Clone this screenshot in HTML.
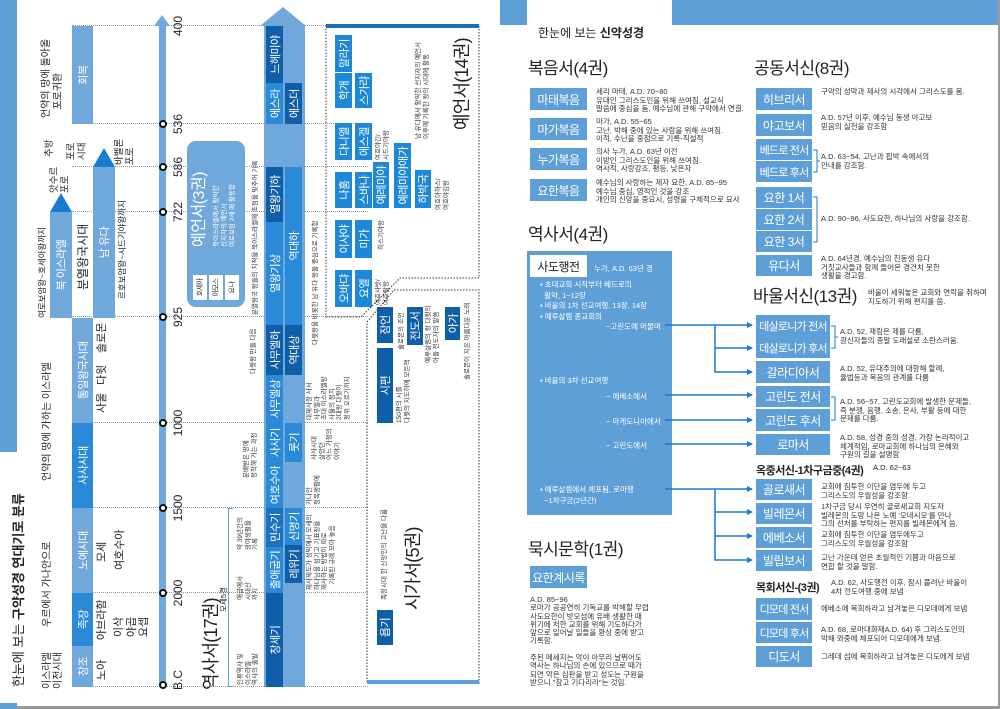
<!DOCTYPE html>
<html><head><meta charset="utf-8">
<style>
*{margin:0;padding:0;box-sizing:border-box}
body{width:1000px;height:709px;overflow:hidden;background:#fff;position:relative;font-family:"Liberation Sans","Noto Sans CJK KR",sans-serif;color:#222}
.a{position:absolute;white-space:nowrap}
#rot{position:absolute;left:0;top:709px;width:709px;height:500px;transform-origin:0 0;transform:rotate(-90deg)}
#rot .a{position:absolute}
.c{display:flex;align-items:center;justify-content:center;color:#fff;letter-spacing:-0.5px}
.L{background:#70a8dc}.M{background:#2a8ad8}.D{background:#0e5fa8}.B{background:#1e88d8}
.bx{position:absolute;background:#5f9fd8;color:#fff;font-size:12px;letter-spacing:-0.5px;display:flex;align-items:center;justify-content:center;white-space:nowrap;overflow:hidden}
.sm{font-size:11px;letter-spacing:-0.8px}
.d{position:absolute;font-size:7.5px;line-height:8.6px;color:#333;white-space:nowrap}
.h{position:absolute;font-size:17px;letter-spacing:-0.5px;white-space:nowrap;color:#222;line-height:20px}
.s{font-size:6.5px;line-height:7.5px;color:#333}
.big{font-size:18px;line-height:20px;letter-spacing:-0.8px}
.dot{position:absolute;top:72px;height:296px;width:0;border-left:1px dotted #999}
.cir{position:absolute;top:159px;width:8px;height:8px;border-radius:50%;background:#fff;border:2px solid #111}
.num{position:absolute;top:171px;font-size:12px;width:30px;text-align:center}
</style></head><body>

<div class="a" style="left:998px;top:0;width:2px;height:709px;background:#999"></div>
<div class="a" style="left:0;top:706px;width:1000px;height:3px;background:#999"></div>

<div id="rot">
 <div class="a" style="left:0;top:0;width:709px;height:17px;background:#5f9fd8"></div>
 <div class="a" style="left:6px;top:0;width:251px;height:29px;background:#fff"></div>
 <div class="a" style="left:22px;top:11px;font-size:13px;line-height:16px">한눈에 보는 <b>구약성경 연대기로 분류</b></div>

 <div class="dot" style="left:683px"></div><div class="dot" style="left:585px"></div><div class="dot" style="left:542px"></div><div class="dot" style="left:497px"></div><div class="dot" style="left:392px"></div><div class="dot" style="left:286px"></div><div class="dot" style="left:201px"></div><div class="dot" style="left:116px"></div><div class="dot" style="left:22px"></div>

 <div class="a c L" style="left:22px;top:72px;width:41px;height:21px;font-size:11px">창조</div>
 <div class="a c M" style="left:63px;top:72px;width:53px;height:21px;font-size:11px">족장</div>
 <div class="a c L" style="left:116px;top:72px;width:85px;height:21px;font-size:11px">노예시대</div>
 <div class="a c M" style="left:201px;top:72px;width:85px;height:21px;font-size:11px">사사시대</div>
 <div class="a c L" style="left:286px;top:72px;width:105px;height:21px;font-size:11px">통일왕국시대</div>
 <div class="a c L" style="left:585px;top:72px;width:98px;height:21px;font-size:11px">회복</div>
 <div class="a c L" style="left:391px;top:50px;width:106px;height:22px;font-size:11px">북 이스라엘</div>
 <div class="a" style="left:497px;top:50px;width:0;height:0;border-top:11px solid transparent;border-bottom:11px solid transparent;border-left:19px solid #1a7cd0"></div>
 <div class="a c L" style="left:391px;top:93px;width:151px;height:22px;font-size:11px">남 유다</div>
 <div class="a" style="left:542px;top:93px;width:0;height:0;border-top:11px solid transparent;border-bottom:11px solid transparent;border-left:19px solid #1a7cd0"></div>

 <div class="a" style="left:20px;top:42px;font-size:10px;line-height:11px">이스라엘<br>이전시대</div>
 <div class="a" style="left:82px;top:42px;font-size:10px;line-height:11px">우르에서 가나안으로</div>
 <div class="a" style="left:228px;top:42px;font-size:10px;line-height:11px">언약의 땅에 가하는 이스라엘</div>
 <div class="a" style="left:391px;top:37px;font-size:8.5px;line-height:10px">여로보암왕~호세아왕까지</div>
 <div class="a" style="left:516px;top:49px;font-size:9.5px;line-height:11px">앗수르<br>포로</div>
 <div class="a" style="left:552px;top:44px;font-size:9.5px;line-height:11px">추방</div>
 <div class="a" style="left:549px;top:66px;font-size:9.5px;line-height:11px">포로<br>시대</div>
 <div class="a" style="left:544px;top:114px;font-size:9.5px;line-height:11px">바벨론<br>포로</div>
 <div class="a" style="left:591px;top:41px;font-size:10px;line-height:12px">언약의 땅에 돌아올<br>&nbsp;&nbsp;&nbsp;포로귀환</div>
 <div class="a" style="left:419px;top:76px;font-size:12px;line-height:14px">분열왕국시대</div>
 <div class="a" style="left:410px;top:117px;font-size:8.5px;line-height:10px">르호보암왕~시드기야왕까지</div>
 <div class="a" style="left:29px;top:96px;font-size:11px;line-height:12px">노아</div>
 <div class="a" style="left:69px;top:96px;font-size:11px;line-height:12px">아브라함</div>
 <div class="a" style="left:72px;top:113px;font-size:11px;line-height:12.5px">이삭<br>야곱<br>요셉</div>
 <div class="a" style="left:147px;top:96px;font-size:11px;line-height:12px">모세</div>
 <div class="a" style="left:139px;top:114px;font-size:11px;line-height:12px">여호수아</div>
 <div class="a" style="left:296px;top:96px;font-size:11px;line-height:12px">사울</div>
 <div class="a" style="left:324px;top:96px;font-size:11px;line-height:12px">다윗</div>
 <div class="a" style="left:356px;top:96px;font-size:11px;line-height:12px">솔로몬</div>

 <div class="a" style="left:22px;top:159px;width:662px;height:7px;background:#70a8dc"></div>
 <div class="a" style="left:683px;top:154px;width:0;height:0;border-top:8px solid transparent;border-bottom:8px solid transparent;border-left:11px solid #70a8dc"></div>
 <div class="cir" style="left:581px"></div><div class="cir" style="left:538px"></div><div class="cir" style="left:493px"></div><div class="cir" style="left:388px"></div><div class="cir" style="left:282px"></div><div class="cir" style="left:197px"></div><div class="cir" style="left:112px"></div><div class="cir" style="left:20px"></div>
 <div class="num" style="left:668px">400</div><div class="num" style="left:570px">536</div><div class="num" style="left:527px">586</div><div class="num" style="left:482px">722</div><div class="num" style="left:377px">925</div><div class="num" style="left:271px">1000</div><div class="num" style="left:186px">1500</div><div class="num" style="left:101px">2000</div><div class="num" style="left:14px">B.C</div>

 <div class="a L" style="left:402px;top:187px;width:166px;height:58px;border-radius:9px"></div>
 <div class="a" style="left:462px;top:191px;font-size:16px;line-height:18px;color:#fff;letter-spacing:-0.5px">예언서(3권)</div>
 <div class="a" style="left:462px;top:213px;font-size:6.5px;line-height:8px;color:#fff">북이스라엘에서 활약한<br>선지자의 예언서<br>여로보암 2세 때 활동함</div>
 <div class="a c" style="left:409px;top:193px;width:25px;height:14px;background:#fff;color:#333;font-size:7px">호세아</div>
 <div class="a c" style="left:409px;top:209px;width:25px;height:14px;background:#fff;color:#333;font-size:7px">아모스</div>
 <div class="a c" style="left:409px;top:225px;width:25px;height:14px;background:#fff;color:#333;font-size:7px">요나</div>

 <div class="a L" style="left:22px;top:264px;width:661px;height:41px"></div>
 <div class="a" style="left:683px;top:260px;width:0;height:0;border-top:23.5px solid transparent;border-bottom:23.5px solid transparent;border-left:19px solid #70a8dc"></div>
 <div class="a c D" style="left:626px;top:266px;width:57px;height:17px;font-size:11px">느헤미야</div>
 <div class="a c M" style="left:585px;top:266px;width:41px;height:17px;font-size:11px">에스라</div>
 <div class="a c D" style="left:487px;top:266px;width:55px;height:17px;font-size:11px">열왕기하</div>
 <div class="a c M" style="left:384px;top:266px;width:103px;height:17px;font-size:11px">열왕기상</div>
 <div class="a c D" style="left:334px;top:266px;width:50px;height:17px;font-size:11px">사무엘하</div>
 <div class="a c M" style="left:286px;top:266px;width:48px;height:17px;font-size:11px">사무엘상</div>
 <div class="a c M" style="left:247px;top:266px;width:39px;height:17px;font-size:11px">사사기</div>
 <div class="a c M" style="left:201px;top:266px;width:46px;height:17px;font-size:11px">여호수아</div>
 <div class="a c D" style="left:162px;top:266px;width:39px;height:17px;font-size:11px;background:#1a73c0">민수기</div>
 <div class="a c M" style="left:116px;top:266px;width:46px;height:17px;font-size:11px">출애굽기</div>
 <div class="a c D" style="left:22px;top:266px;width:94px;height:17px;font-size:11px">창세기</div>
 <div class="a c D" style="left:585px;top:285px;width:41px;height:17px;font-size:11px">에스더</div>
 <div class="a c M" style="left:384px;top:285px;width:158px;height:17px;font-size:11px">역대하</div>
 <div class="a c D" style="left:334px;top:285px;width:50px;height:17px;font-size:11px">역대상</div>
 <div class="a c M" style="left:247px;top:285px;width:39px;height:17px;font-size:11px">룻기</div>
 <div class="a c M" style="left:164px;top:285px;width:37px;height:17px;font-size:11px">신명기</div>
 <div class="a c D" style="left:126px;top:285px;width:38px;height:17px;font-size:11px">레위기</div>

 <div class="a s" style="left:394px;top:252px">분열왕국 왕들의 치적을 북이스라엘에 초점을 맞추어 기록</div>
 <div class="a s" style="left:335px;top:250px">다윗왕 만들 다음</div>
 <div class="a s" style="left:231px;top:243px">분배받은 땅에<br>정착해 가는 과정</div>
 <div class="a s" style="left:159px;top:237px">약 39년간의<br>광야생활을<br>기록</div>
 <div class="a s" style="left:109px;top:237px">애굽에서<br>시내산<br>까지</div>
 <div class="a s" style="left:24px;top:237px">인류역사 및<br>이스라엘<br>역사의 출발</div>
 <div class="a" style="left:97px;top:219px;font-size:7.5px;line-height:9px">모세5경</div>
 <div class="a big" style="left:19px;top:201px">역사서(17권)</div>
 <div class="a" style="left:22px;top:228px;width:179px;height:5px;border:1px solid #5f9fd8;border-bottom:none"></div>
 <div class="a s" style="left:364px;top:312px">다윗왕을 비롯한 남 유다 왕들 중심으로 기록함</div>
 <div class="a s" style="left:289px;top:306px">대제사장 사서<br>사무엘과<br>초대 이스라엘왕<br>사울의 정치<br>2대왕 다윗이<br>왕위 오르기까지</div>
 <div class="a s" style="left:249px;top:311px">사사시대<br>살았던<br>어느 가정의<br>이야기</div>
 <div class="a s" style="left:204px;top:306px">가나안<br>정복생활에</div>
 <div class="a s" style="left:119px;top:306px">제사제도가 성막에서 모세의<br>하나님을 섬기고 기표정을<br>제사하는 방법이 따로<br>&nbsp;&nbsp;&nbsp;기록된 규례 모아 놓음</div>

 <div class="a c B" style="left:637px;top:335px;width:37px;height:17px;font-size:11px">말라기</div>
 <div class="a c B" style="left:601px;top:335px;width:35px;height:17px;font-size:11px">학개</div>
 <div class="a c B" style="left:549px;top:335px;width:37px;height:17px;font-size:11px">다니엘</div>
 <div class="a c B" style="left:501px;top:335px;width:36px;height:17px;font-size:11px">나훔</div>
 <div class="a c B" style="left:451px;top:335px;width:38px;height:17px;font-size:11px">이사야</div>
 <div class="a c B" style="left:402px;top:335px;width:37px;height:17px;font-size:11px">오바댜</div>
 <div class="a c B" style="left:601px;top:355px;width:35px;height:17px;font-size:11px">스가랴</div>
 <div class="a c B" style="left:549px;top:355px;width:37px;height:17px;font-size:11px">에스겔</div>
 <div class="a c B" style="left:501px;top:355px;width:36px;height:17px;font-size:11px">스바냐</div>
 <div class="a c B" style="left:451px;top:355px;width:38px;height:17px;font-size:11px">미가</div>
 <div class="a c B" style="left:402px;top:355px;width:37px;height:17px;font-size:11px">요엘</div>
 <div class="a c B" style="left:501px;top:373px;width:46px;height:16px;font-size:11px">예레미야</div>
 <div class="a c B" style="left:501px;top:394px;width:65px;height:17px;font-size:11px">예레미야애가</div>
 <div class="a c B" style="left:501px;top:415px;width:38px;height:16px;font-size:11px">하박국</div>
 <div class="a s" style="left:549px;top:375px">여호야긴/<br>시드기야왕</div>
 <div class="a s" style="left:459px;top:378px">히스기야왕</div>
 <div class="a s" style="left:404px;top:375px">여호사밧/<br>여호람왕</div>
 <div class="a s" style="left:499px;top:435px">여호아하스/<br>여호야김왕</div>
 <div class="a s" style="left:570px;top:415px">남 유다에서 활약한 선지자의 예언서<br>이후에 기록한 왕의 시대에 활동</div>
 <div class="a big" style="left:579px;top:452px">예언서(14권)</div>

 <div class="a c D" style="left:366px;top:377px;width:36px;height:16px;font-size:11px">잠언</div>
 <div class="a c D" style="left:286px;top:377px;width:75px;height:16px;font-size:11px">시편</div>
 <div class="a c D" style="left:64px;top:377px;width:35px;height:16px;font-size:11px">욥기</div>
 <div class="a c D" style="left:364px;top:407px;width:38px;height:16px;font-size:11px">전도서</div>
 <div class="a c D" style="left:369px;top:445px;width:33px;height:15px;font-size:11px">아가</div>
 <div class="a s" style="left:359px;top:398px">솔로몬의 조언</div>
 <div class="a s" style="left:286px;top:396px">150편의 시를<br>다윗의 지도하에 모든책</div>
 <div class="a s" style="left:346px;top:425px">예루살렘의 왕 다윗의<br>아들 전도자의 말씀</div>
 <div class="a s" style="left:329px;top:464px">솔로몬이 지은 아름다운 노래</div>
 <div class="a s" style="left:109px;top:381px">족장시대 한 신앙인의 고난을 다룸</div>
 <div class="a big" style="left:99px;top:403px">시가서(5권)</div>
</div>

<svg class="a" style="left:0;top:0" width="1000" height="709">
 <polygon points="326,26 479,26 479,278 400,278 361,317 326,317" fill="none" stroke="#333" stroke-dasharray="1.5,1.5" stroke-width="1"/>
 <rect x="326" y="24" width="153" height="4" fill="#1a6fb8"/>
 <polygon points="394,290 479,290 479,683 367,683 367,322" fill="none" stroke="#333" stroke-dasharray="1.5,1.5" stroke-width="1"/>
 <rect x="367" y="680" width="112" height="4" fill="#5f9fd8"/>
</svg>

<div class="a" style="left:500px;top:0;width:498px;height:25px;background:#5f9fd8"></div>
<div class="a" style="left:527px;top:0;width:145px;height:38px;background:#fff"></div>
<div class="a" style="left:538px;top:24px;font-size:12px">한눈에 보는 <b>신약성경</b></div>

<div class="h" style="left:528px;top:59px">복음서(4권)</div>
<div class="bx" style="left:530px;top:88px;width:57px;height:22px">마태복음</div>
<div class="bx" style="left:530px;top:118px;width:57px;height:22px">마가복음</div>
<div class="bx" style="left:530px;top:148px;width:57px;height:22px">누가복음</div>
<div class="bx" style="left:530px;top:179px;width:57px;height:22px">요한복음</div>
<div class="d" style="left:596px;top:88px">세리 마태, A.D. 70~80<br>유대인 그리스도인을 위해 쓰여짐, 설교식<br>말씀에 중심을 둠, 예수님에 관해 구약에서 연결.</div>
<div class="d" style="left:596px;top:118px">마가, A.D. 55~65<br>고난, 박해 중에 있는 사람을 위해 쓰여짐.<br>이적, 수난을 중점으로 기록-직설적</div>
<div class="d" style="left:596px;top:148px">의사 누가, A.D. 63년 이전<br>이방인 그리스도인을 위해 쓰여짐.<br>역사적, 사랑강조, 평등, 낮은자</div>
<div class="d" style="left:596px;top:179px">예수님의 사랑하는 제자 요한, A.D. 85~95<br>예수님 중심, 영적인 것을 강조<br>개인의 신앙을 중요시, 성령을 구체적으로 묘사</div>

<div class="h" style="left:528px;top:225px">역사서(4권)</div>
<div class="a" style="left:527px;top:251px;width:145px;height:264px;background:#5f9fd8"></div>
<div class="a" style="left:530px;top:255px;width:57px;height:22px;background:#fff;font-size:12px;letter-spacing:-0.5px;display:flex;align-items:center;justify-content:center">사도행전</div>
<div class="a" style="left:594px;top:263px;font-size:7.5px;color:#fff">누가, A.D. 63년 경</div>
<div class="a" style="left:540px;top:280px;font-size:7.5px;line-height:10.7px;color:#fff">• 초대교회 시작부터 베드로의<br>&nbsp;&nbsp;활약, 1~12장<br>• 바울의 1차 선교여행, 13장, 14장<br>• 예루살렘 종교회의</div>
<div class="a" style="left:606px;top:321px;font-size:7.5px;color:#fff">~고린도에 머물며</div>
<div class="a" style="left:540px;top:375px;font-size:7.5px;color:#fff">• 바울의 3차 선교여행</div>
<div class="a" style="left:606px;top:391px;font-size:7.5px;color:#fff">~ 에베소에서</div>
<div class="a" style="left:606px;top:416px;font-size:7.5px;color:#fff">~ 마게도니아에서</div>
<div class="a" style="left:606px;top:440px;font-size:7.5px;color:#fff">~ 고린도에서</div>
<div class="a" style="left:540px;top:485px;font-size:7.5px;line-height:10.7px;color:#fff">• 예루살렘에서 체포됨, 로마행<br>&nbsp;&nbsp;~1차구금(2년간)</div>

<div class="h" style="left:528px;top:540px">묵시문학(1권)</div>
<div class="bx" style="left:530px;top:566px;width:57px;height:22px">요한계시록</div>
<div class="d" style="left:530px;top:596px;line-height:8.3px">A.D. 85~96<br>로마가 공공연히 기독교를 박해할 무렵<br>사도요한이 밧모섬에 유배 생활한 때<br>위기에 처한 교회를 위해 기도하다가<br>앞으로 일어날 일들을 환상 중에 받고<br>기록함.<br><br>주된 메세지는 악이 아무리 날뛰어도<br>역사는 하나님의 손에 있으므로 때가<br>되면 악은 심판을 받고 성도는 구원을<br>받으니 "참고 기다리라"는 것임.</div>

<div class="h" style="left:754px;top:59px">공동서신(8권)</div>
<div class="bx" style="left:756px;top:88px;width:56px;height:22px">히브리서</div>
<div class="bx" style="left:756px;top:114px;width:56px;height:22px">야고보서</div>
<div class="bx sm" style="left:756px;top:139px;width:56px;height:21px">베드로 전서</div>
<div class="bx sm" style="left:756px;top:161px;width:56px;height:21px">베드로 후서</div>
<div class="bx" style="left:756px;top:187px;width:56px;height:21px">요한 1서</div>
<div class="bx" style="left:756px;top:209px;width:56px;height:21px">요한 2서</div>
<div class="bx" style="left:756px;top:231px;width:56px;height:21px">요한 3서</div>
<div class="bx" style="left:756px;top:255px;width:56px;height:21px">유다서</div>
<div class="d" style="left:821px;top:88px">구약의 성막과 제사의 시각에서 그리스도를 봄.</div>
<div class="d" style="left:821px;top:114px">A.D. 57년 이후, 예수님 동생 야고보<br>믿음의 실천을 강조함</div>
<div class="d" style="left:821px;top:153px">A.D. 63~54, 고난과 핍박 속에서의<br>안내를 강조함.</div>
<div class="d" style="left:821px;top:215px">A.D. 90~96, 사도요한, 하나님의 사랑을 강조함.</div>
<div class="d" style="left:821px;top:255px">A.D. 64년경, 예수님의 친동생 유다<br>거짓교사들과 함께 들어온 경건치 못한<br>생활을 경고함.</div>

<div class="h" style="left:753px;top:287px">바울서신(13권)</div>
<div class="d" style="left:868px;top:289px">바울이 세워놓은 교회와 연락을 취하며<br>지도하기 위해 편지를 씀.</div>
<div class="bx sm" style="left:756px;top:315px;width:74px;height:22px">데살로니가 전서</div>
<div class="bx sm" style="left:756px;top:337px;width:74px;height:21px">데살로니가 후서</div>
<div class="bx" style="left:756px;top:361px;width:74px;height:22px">갈라디아서</div>
<div class="bx" style="left:756px;top:386px;width:74px;height:21px">고린도 전서</div>
<div class="bx" style="left:756px;top:409px;width:74px;height:22px">고린도 후서</div>
<div class="bx" style="left:756px;top:434px;width:74px;height:21px">로마서</div>
<div class="d" style="left:840px;top:328px">A.D. 52, 재림은 제를 다룸,<br>광신자들의 종말 도래설로 소란스러움.</div>
<div class="d" style="left:840px;top:365px">A.D. 52, 유대주의에 대항해 할례,<br>율법등과 복음의 관계를 다룸</div>
<div class="d" style="left:840px;top:398px">A.D. 56~57, 고린도교회에 발생한 문제들,<br>즉 분쟁, 음행, 소송, 은사, 부활 등에 대한<br>문제를 다룸.</div>
<div class="d" style="left:840px;top:434px">A.D. 58, 성경 중의 성경, 가장 논리적이고<br>체계적임, 로마교회에 하나님의 은혜와<br>구원의 길을 설명함</div>

<div class="a" style="left:756px;top:462px;font-size:11px;font-weight:bold;letter-spacing:-0.5px">옥중서신-1차구금중(4권)</div>
<div class="a" style="left:873px;top:463px;font-size:7.5px">A.D. 62~63</div>
<div class="bx" style="left:756px;top:479px;width:56px;height:21px">골로새서</div>
<div class="bx" style="left:756px;top:503px;width:56px;height:21px">빌레몬서</div>
<div class="bx" style="left:756px;top:527px;width:56px;height:21px">에베소서</div>
<div class="bx" style="left:756px;top:550px;width:56px;height:21px">빌립보서</div>
<div class="d" style="left:821px;top:483px">교회에 침투한 이단을 염두에 두고<br>그리스도의 우월성을 강조함.</div>
<div class="d" style="left:821px;top:503px">1차구금 당시 우연히 골로새교회 지도자<br>빌레몬의 도망 나온 노예 '오네시모'를 만나<br>그의 선처를 부탁하는 편지를 빌레몬에게 씀.</div>
<div class="d" style="left:821px;top:531px">교회에 침투한 이단을 염두에두고<br>그리스도의 우월성을 강조함</div>
<div class="d" style="left:821px;top:554px">고난 가운데 얻은 초월적인 기쁨과 마음으로<br>연합 할 것을 말함.</div>

<div class="a" style="left:756px;top:579px;font-size:11px;font-weight:bold;letter-spacing:-0.5px">목회서신-(3권)</div>
<div class="d" style="left:831px;top:579px">A.D. 62, 사도행전 이후, 잠시 풀려난 바울이<br>4차 전도여행 중에 보냄</div>
<div class="bx sm" style="left:756px;top:598px;width:56px;height:22px">디모데 전서</div>
<div class="bx sm" style="left:756px;top:622px;width:56px;height:21px">디모데 후서</div>
<div class="bx" style="left:756px;top:646px;width:56px;height:21px">디도서</div>
<div class="d" style="left:821px;top:605px">에베소에 목회하라고 남겨놓은 디모데에게 보냄</div>
<div class="d" style="left:821px;top:626px">A.D. 68, 로마대화재A.D. 64) 후 그리스도인의<br>박해 와중에 체포되어 디모데에게 보냄.</div>
<div class="d" style="left:821px;top:653px">그레데 섬에 목회하라고 남겨놓은 디도에게 보냄</div>

<svg class="a" style="left:0;top:0" width="1000" height="709">
 <defs><marker id="ar" markerWidth="6" markerHeight="6" refX="5" refY="3" orient="auto" markerUnits="userSpaceOnUse"><path d="M0,0 L6,3 L0,6z" fill="#1a7cd0"/></marker></defs>
 <g stroke="#1a7cd0" stroke-width="1.5" fill="none">
  <line x1="665" y1="325" x2="752" y2="325" marker-end="url(#ar)"/>
  <polyline points="715,325 715,372 752,372" marker-end="url(#ar)"/>
  <line x1="715" y1="348" x2="752" y2="348" marker-end="url(#ar)"/>
  <line x1="665" y1="395" x2="752" y2="395" marker-end="url(#ar)"/>
  <line x1="665" y1="420" x2="752" y2="420" marker-end="url(#ar)"/>
  <line x1="665" y1="444" x2="752" y2="444" marker-end="url(#ar)"/>
  <line x1="665" y1="489" x2="752" y2="489" marker-end="url(#ar)"/>
  <polyline points="715,489 715,560 752,560" marker-end="url(#ar)"/>
  <line x1="715" y1="512" x2="752" y2="512" marker-end="url(#ar)"/>
  <line x1="715" y1="536" x2="752" y2="536" marker-end="url(#ar)"/>
 </g>
 <g stroke="#1a7cd0" stroke-width="1" fill="none">
  <polyline points="813,150 817,150 817,172 813,172"/>
  <polyline points="813,197 817,197 817,242 813,242"/>
  <polyline points="831,326 835,326 835,348 831,348"/>
  <polyline points="831,397 835,397 835,420 831,420"/>
  <line x1="817" y1="161" x2="820" y2="161"/>
  <line x1="835" y1="337" x2="838" y2="337"/>
 </g>
</svg>
</body></html>
